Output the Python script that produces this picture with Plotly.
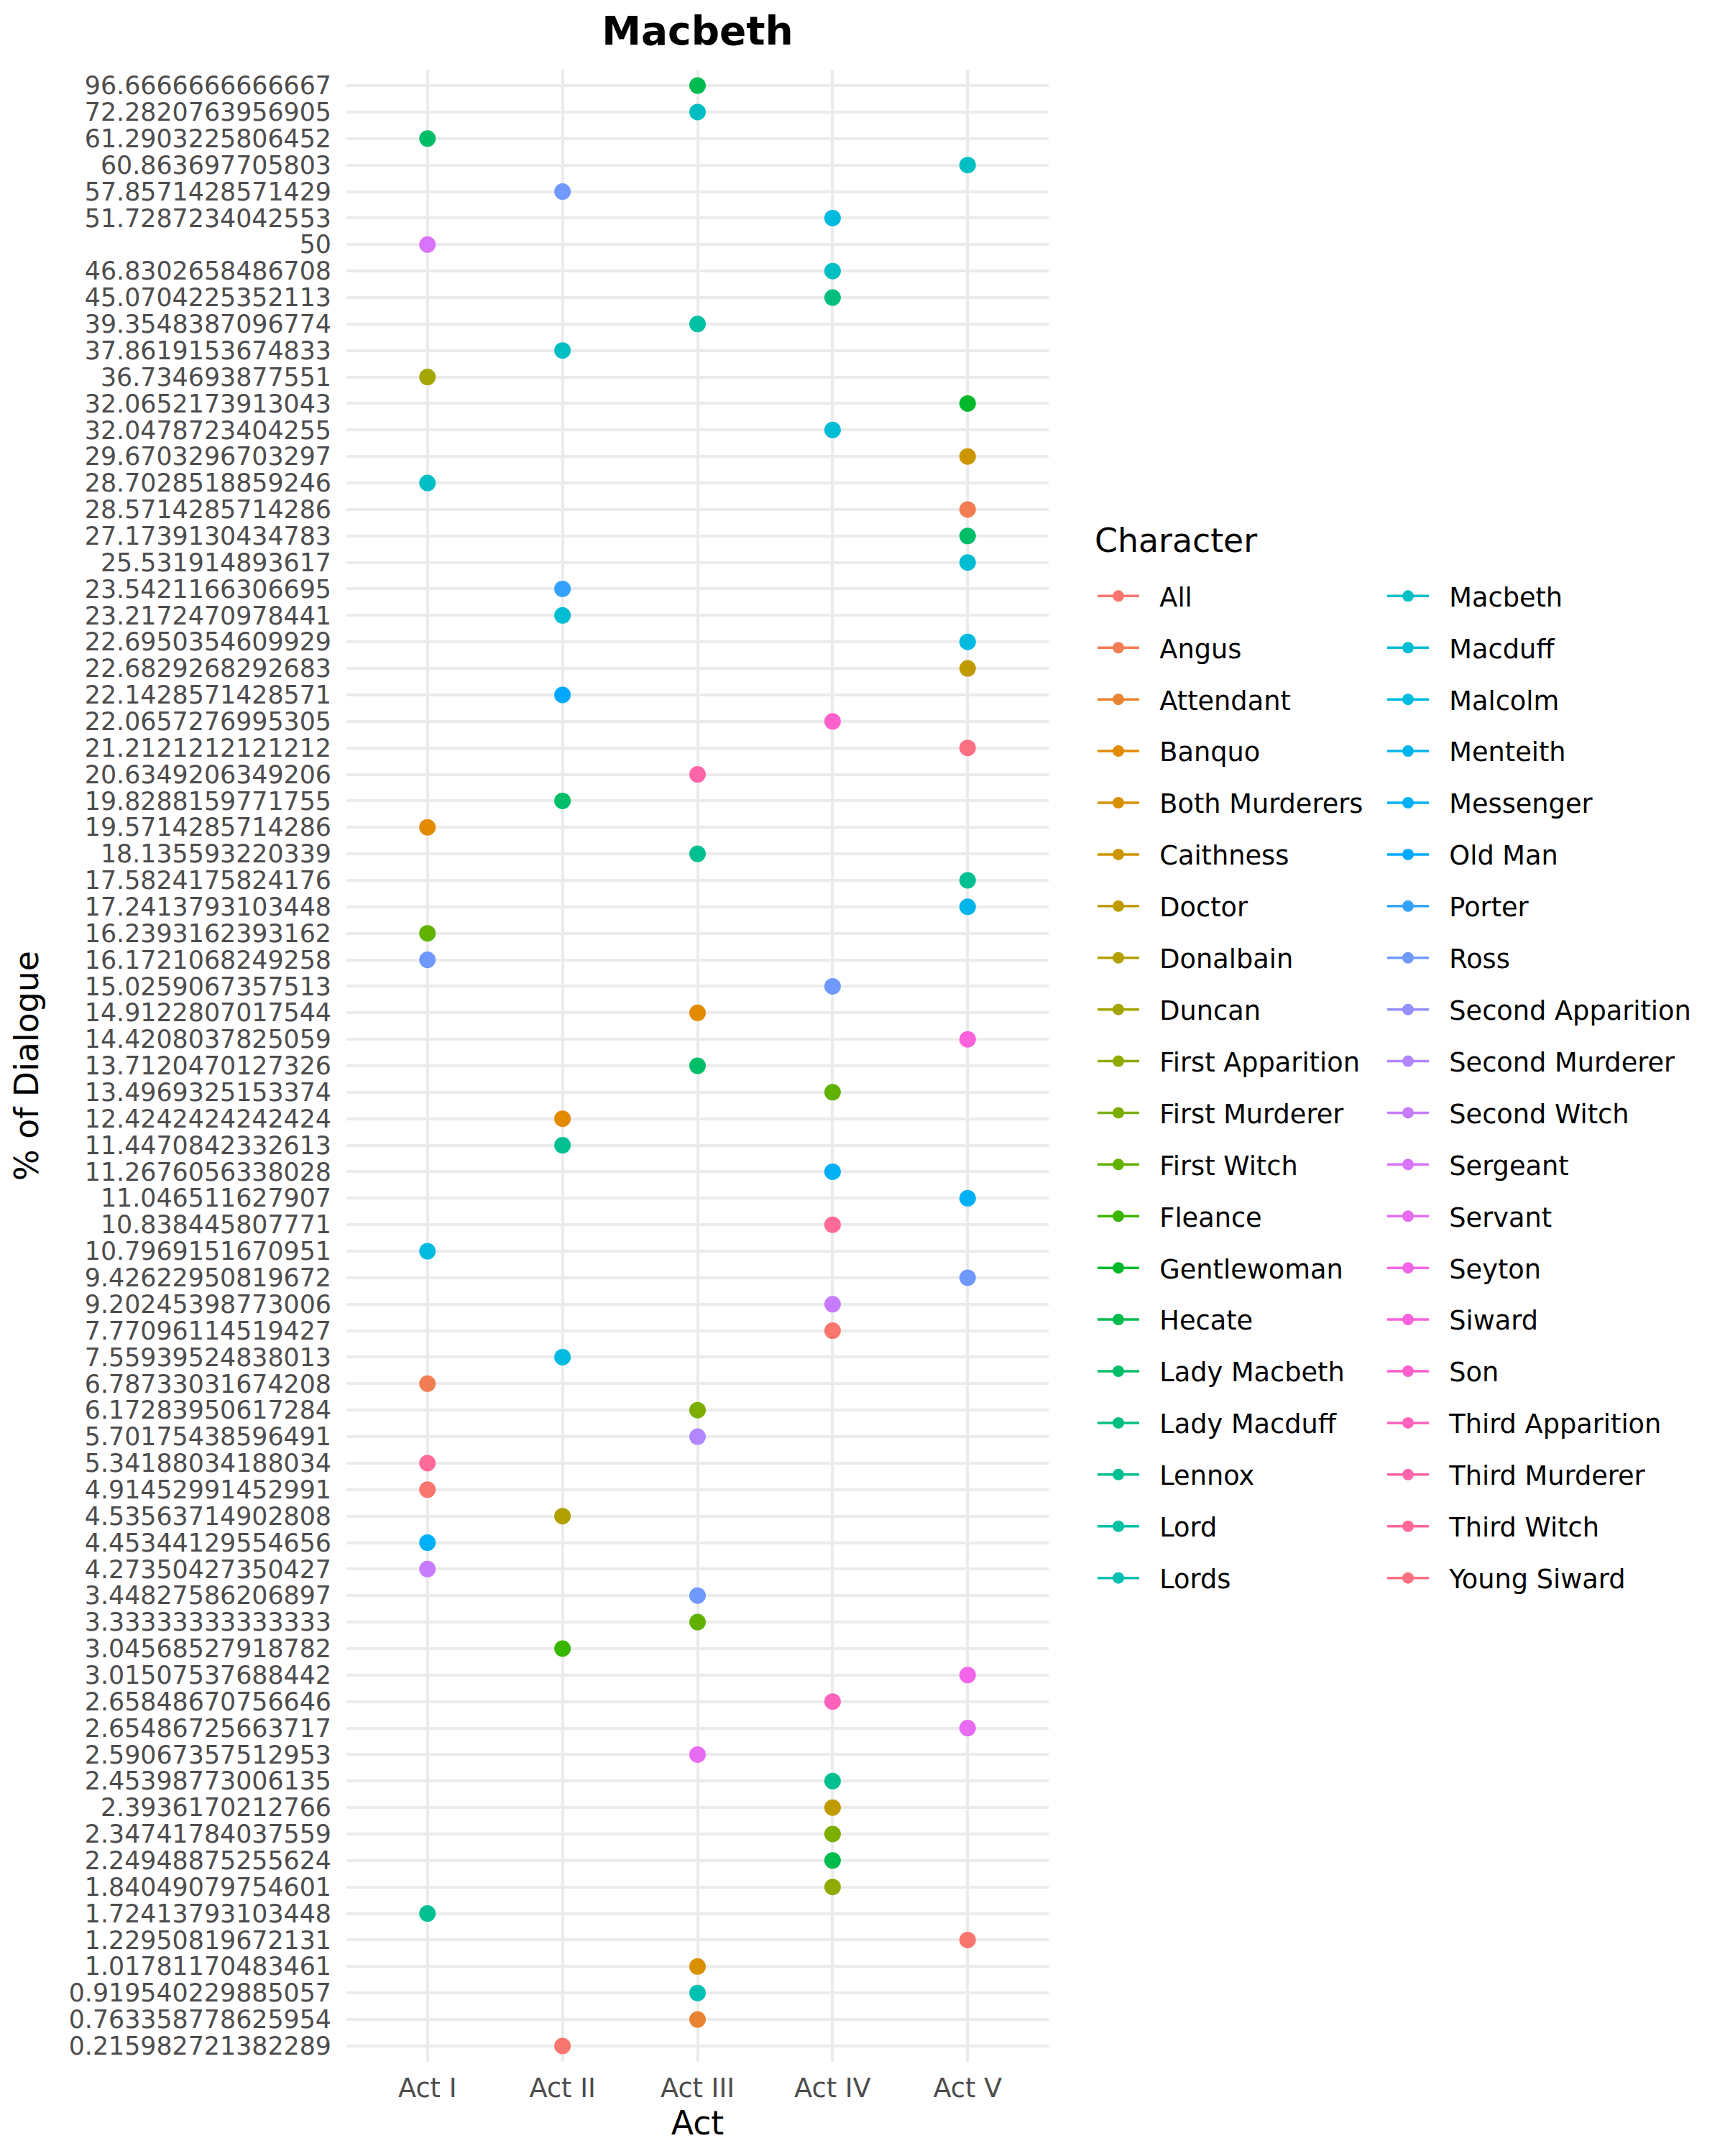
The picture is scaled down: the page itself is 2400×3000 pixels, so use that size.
import math
import plotly.graph_objects as go

# ---------------- data ----------------
characters = [
    "All", "Angus", "Attendant", "Banquo", "Both Murderers", "Caithness", "Doctor",
    "Donalbain", "Duncan", "First Apparition", "First Murderer", "First Witch",
    "Fleance", "Gentlewoman", "Hecate", "Lady Macbeth", "Lady Macduff", "Lennox",
    "Lord", "Lords", "Macbeth", "Macduff", "Malcolm", "Menteith", "Messenger",
    "Old Man", "Porter", "Ross", "Second Apparition", "Second Murderer",
    "Second Witch", "Sergeant", "Servant", "Seyton", "Siward", "Son",
    "Third Apparition", "Third Murderer", "Third Witch", "Young Siward",
]

act_levels = ["Act I", "Act II", "Act III", "Act IV", "Act V"]

# one row per point: % of dialogue label (as printed), act, character
pct_labels = [
    "96.6666666666667", "72.2820763956905", "61.2903225806452", "60.863697705803",
    "57.8571428571429", "51.7287234042553", "50", "46.8302658486708",
    "45.0704225352113", "39.3548387096774", "37.8619153674833", "36.734693877551",
    "32.0652173913043", "32.0478723404255", "29.6703296703297", "28.7028518859246",
    "28.5714285714286", "27.1739130434783", "25.531914893617", "23.5421166306695",
    "23.2172470978441", "22.6950354609929", "22.6829268292683", "22.1428571428571",
    "22.0657276995305", "21.2121212121212", "20.6349206349206", "19.8288159771755",
    "19.5714285714286", "18.135593220339", "17.5824175824176", "17.2413793103448",
    "16.2393162393162", "16.1721068249258", "15.0259067357513", "14.9122807017544",
    "14.4208037825059", "13.7120470127326", "13.4969325153374", "12.4242424242424",
    "11.4470842332613", "11.2676056338028", "11.046511627907", "10.838445807771",
    "10.7969151670951", "9.42622950819672", "9.20245398773006", "7.77096114519427",
    "7.55939524838013", "6.78733031674208", "6.17283950617284", "5.70175438596491",
    "5.34188034188034", "4.91452991452991", "4.53563714902808", "4.45344129554656",
    "4.27350427350427", "3.44827586206897", "3.33333333333333", "3.04568527918782",
    "3.01507537688442", "2.65848670756646", "2.65486725663717", "2.59067357512953",
    "2.45398773006135", "2.3936170212766", "2.34741784037559", "2.24948875255624",
    "1.84049079754601", "1.72413793103448", "1.22950819672131", "1.01781170483461",
    "0.919540229885057", "0.763358778625954", "0.215982721382289",
]
point_acts = [
    "Act III", "Act III", "Act I", "Act V", "Act II", "Act IV", "Act I", "Act IV",
    "Act IV", "Act III", "Act II", "Act I", "Act V", "Act IV", "Act V", "Act I",
    "Act V", "Act V", "Act V", "Act II", "Act II", "Act V", "Act V", "Act II",
    "Act IV", "Act V", "Act III", "Act II", "Act I", "Act III", "Act V", "Act V",
    "Act I", "Act I", "Act IV", "Act III", "Act V", "Act III", "Act IV", "Act II",
    "Act II", "Act IV", "Act V", "Act IV", "Act I", "Act V", "Act IV", "Act IV",
    "Act II", "Act I", "Act III", "Act III", "Act I", "Act I", "Act II", "Act I",
    "Act I", "Act III", "Act III", "Act II", "Act V", "Act IV", "Act V", "Act III",
    "Act IV", "Act IV", "Act IV", "Act IV", "Act IV", "Act I", "Act V", "Act III",
    "Act III", "Act III", "Act II",
]
point_chars = [
    "Hecate", "Macbeth", "Lady Macbeth", "Macbeth", "Ross", "Malcolm", "Sergeant", "Macbeth",
    "Lady Macduff", "Lord", "Macbeth", "Duncan", "Gentlewoman", "Macduff", "Caithness", "Macbeth",
    "Angus", "Lady Macbeth", "Macduff", "Porter", "Macduff", "Malcolm", "Doctor", "Old Man",
    "Son", "Young Siward", "Third Murderer", "Lady Macbeth", "Banquo", "Lennox", "Lennox", "Menteith",
    "First Witch", "Ross", "Ross", "Banquo", "Siward", "Lady Macbeth", "First Witch", "Banquo",
    "Lennox", "Messenger", "Messenger", "Third Witch", "Malcolm", "Ross", "Second Witch", "All",
    "Malcolm", "Angus", "First Murderer", "Second Murderer", "Third Witch", "All", "Donalbain", "Messenger",
    "Second Witch", "Ross", "First Witch", "Fleance", "Seyton", "Third Apparition", "Servant", "Servant",
    "Lennox", "Doctor", "First Murderer", "Hecate", "First Apparition", "Lennox", "All", "Both Murderers",
    "Lords", "Attendant", "All",
]


# ---------------- ggplot-like hue palette ----------------
def hcl_hex(h, c=100.0, l=65.0):
    WHITE_Y, WHITE_u, WHITE_v = 100.0, 0.1978398, 0.4683363
    hr = math.radians(h)
    U, V = c * math.cos(hr), c * math.sin(hr)
    Y = WHITE_Y * (((l + 16) / 116) ** 3 if l > 7.999592 else l / 903.3)
    u = U / (13 * l) + WHITE_u
    v = V / (13 * l) + WHITE_v
    X = 9.0 * Y * u / (4 * v)
    Z = -X / 3 - 5 * Y + 3 * Y / v

    def g(t):
        return 12.92 * t if t <= 0.0031308 else 1.055 * t ** (1 / 2.4) - 0.055

    r = g((3.240479 * X - 1.537150 * Y - 0.498535 * Z) / WHITE_Y)
    gg = g((-0.969256 * X + 1.875992 * Y + 0.041556 * Z) / WHITE_Y)
    b = g((0.055648 * X - 0.204043 * Y + 1.057311 * Z) / WHITE_Y)
    vals = [min(1, max(0, t)) for t in (r, gg, b)]
    return "#%02X%02X%02X" % tuple(int(round(255 * t)) for t in vals)


n = len(characters)
step = 360.0 / n
colors = {ch: hcl_hex(15 + i * step) for i, ch in enumerate(characters)}

# ---------------- figure ----------------
W, H = 2400, 3000
PL, PR, PT, PB = 482, 1459, 97, 2869  # panel edges in px
pw, ph = PR - PL, PB - PT

def px_x(x):
    return (x - PL) / pw

def px_y(y):
    return (PB - y) / ph

FONT = "DejaVu Sans"
AXIS_TXT = 36.7
YTICK_TXT = 34.8
TITLE_TXT = 45.8
NB = "\u00A0\u00A0"  # gap between legend key and label

fig = go.Figure()

for ch in characters:
    xs = [a for a, c in zip(point_acts, point_chars) if c == ch]
    ys = [p for p, c in zip(pct_labels, point_chars) if c == ch]
    if xs:
        fig.add_trace(go.Scatter(
            x=xs, y=ys, mode="markers", name=ch, showlegend=False,
            marker=dict(color=colors[ch], size=23, line=dict(width=0)),
        ))

for i, ch in enumerate(characters):
    fig.add_trace(go.Scatter(
        x=[None], y=[None], mode="lines+markers", name=NB + ch,
        legendgroup=ch, legend="legend" if i < 20 else "legend2",
        line=dict(color=colors[ch], width=3.5),
        marker=dict(color=colors[ch], size=23),
    ))

cat_order = sorted(pct_labels, key=float)

leg_common = dict(
    font=dict(family=FONT, size=AXIS_TXT, color="#000000"),
    bgcolor="rgba(0,0,0,0)", borderwidth=0,
    traceorder="grouped", tracegroupgap=21.2, itemwidth=58,
    xanchor="left", yanchor="top", orientation="v",
    itemclick=False, itemdoubleclick=False,
)

fig.update_layout(
    width=W, height=H,
    margin=dict(l=PL, r=W - PR, t=PT, b=H - PB, autoexpand=False),
    paper_bgcolor="white", plot_bgcolor="white",
    font=dict(family=FONT, color="#000000"),
    title=dict(text="<b>Macbeth</b>", x=px_x((PL + PR) / 2), xref="paper",
               xanchor="center", y=1 - 43 / H, yanchor="middle",
               font=dict(family=FONT, size=55, color="#000000")),
    legend=dict(x=px_x(1522), y=px_y(799), **leg_common),
    legend2=dict(x=px_x(1925), y=px_y(799), **leg_common),
    annotations=[dict(
        text="Character", xref="paper", yref="paper", x=px_x(1521), y=px_y(752),
        xanchor="left", yanchor="middle", showarrow=False,
        font=dict(family=FONT, size=TITLE_TXT, color="#000000"),
    )],
    xaxis=dict(
        type="category", categoryorder="array", categoryarray=act_levels,
        range=[-0.6, len(act_levels) - 0.4],
        showgrid=True, gridcolor="#EBEBEB", gridwidth=4,
        zeroline=False, showline=False, ticks="", ticklabelstandoff=11,
        tickfont=dict(family=FONT, size=AXIS_TXT, color="#4D4D4D"),
        title=dict(text="Act", font=dict(family=FONT, size=TITLE_TXT, color="#000000"), standoff=7),
    ),
    yaxis=dict(
        type="category", categoryorder="array", categoryarray=cat_order,
        tickmode="array", tickvals=cat_order, ticktext=cat_order,
        range=[-0.6, len(cat_order) - 0.4],
        showgrid=True, gridcolor="#EBEBEB", gridwidth=4,
        zeroline=False, showline=False, ticks="", ticklabelstandoff=20,
        tickfont=dict(family=FONT, size=YTICK_TXT, color="#4D4D4D"),
        title=dict(text="% of Dialogue", font=dict(family=FONT, size=TITLE_TXT, color="#000000"), standoff=27),
    ),
)

fig.write_html("out.html")
